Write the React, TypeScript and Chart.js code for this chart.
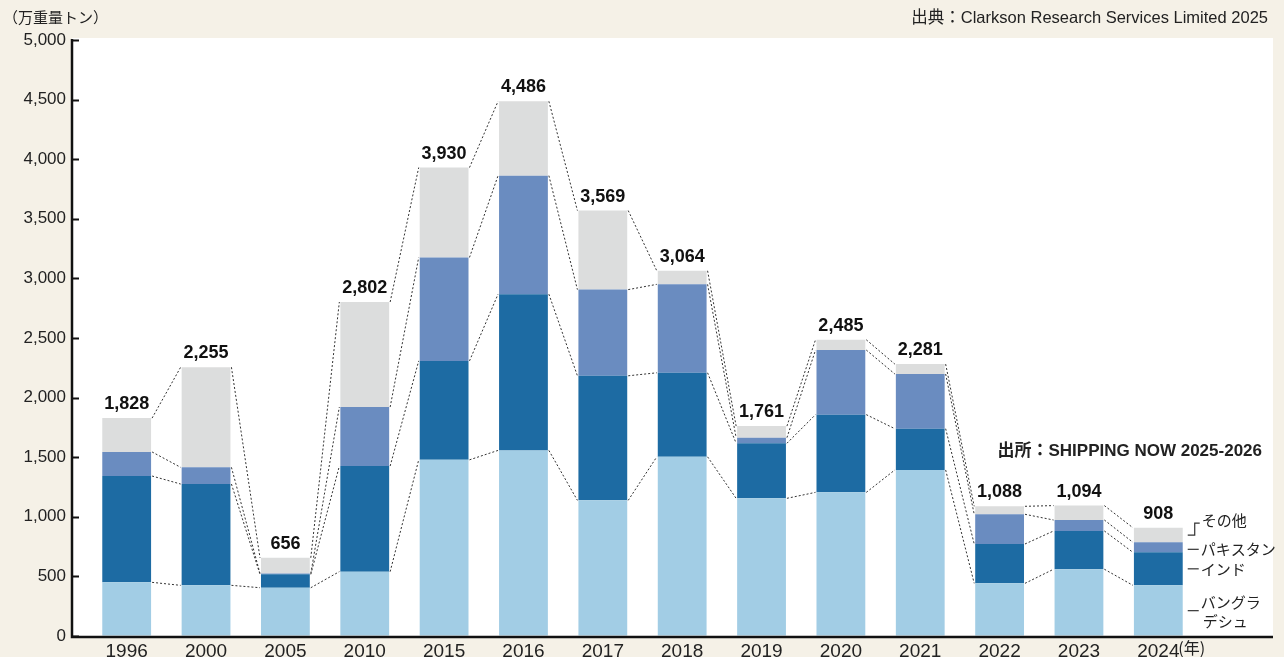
import React, { useEffect, useRef } from "react";
import { Chart, registerables } from "chart.js";

Chart.register(...registerables);

const years = ["1996", "2000", "2005", "2010", "2015", "2016", "2017", "2018", "2019", "2020", "2021", "2022", "2023", "2024"];
const bangladesh = [450, 425, 405, 540, 1478, 1557, 1138, 1503, 1155, 1205, 1393, 442, 560, 425];
const india = [892, 850, 112, 886, 830, 1311, 1045, 705, 462, 652, 346, 330, 321, 277];
const pakistan = [202, 140, 8, 495, 868, 994, 723, 742, 47, 542, 459, 249, 92, 84];
const others = [284, 840, 131, 881, 754, 624, 663, 114, 97, 86, 83, 67, 121, 122];
const totals = [1828, 2255, 656, 2802, 3930, 4486, 3569, 3064, 1761, 2485, 2281, 1088, 1094, 908];
const seriesNames = ["バングラデシュ", "インド", "パキスタン", "その他"];
const seriesColors = ["#a2cde5", "#1d6ba3", "#6a8cc0", "#dcdddd"];
const yMax = 5000;
const yStep = 500;
const unitLabel = "（万重量トン）";
const sourceTop = "出典：Clarkson Research Services Limited 2025";
const sourceNote = "出所：SHIPPING NOW 2025-2026";
const yearSuffix = "(年)";

const LATIN = '"Liberation Sans", Arial, Helvetica, sans-serif';
const JP = '"Noto Sans CJK JP", "Liberation Sans", sans-serif';
const MIX = '"Liberation Sans", "Noto Sans CJK JP", sans-serif';

const bgPlugin = {
  id: "bgPlugin",
  beforeDraw(chart: any) {
    const { ctx, width, height } = chart;
    const baseY = chart.scales.y.getPixelForValue(0);
    ctx.save();
    ctx.fillStyle = "#f5f1e7";
    ctx.fillRect(0, 0, width, height);
    ctx.fillStyle = "#ffffff";
    ctx.fillRect(72, 38, 1273 - 72, baseY - 38);
    ctx.restore();
  },
};

const overlayPlugin = {
  id: "overlayPlugin",
  afterDraw(chart: any) {
    const { ctx } = chart;
    const y = chart.scales.y;
    const metas = [0, 1, 2, 3].map((i) => chart.getDatasetMeta(i));
    const series = [bangladesh, india, pakistan, others];
    const cum = (i: number, k: number) => {
      let s = 0;
      for (let j = 0; j <= k; j++) s += series[j][i];
      return s;
    };
    const axisX = 72;
    const baseY = y.getPixelForValue(0);
    ctx.save();

    // connectors
    ctx.strokeStyle = "#333";
    ctx.lineWidth = 1;
    ctx.setLineDash([2, 2]);
    for (let i = 0; i < years.length - 1; i++) {
      const a = metas[0].data[i];
      const b = metas[0].data[i + 1];
      const x1 = a.x + a.width / 2 + 1;
      const x2 = b.x - b.width / 2 - 1;
      for (let k = 0; k < 4; k++) {
        const v1 = k === 3 ? totals[i] : cum(i, k);
        const v2 = k === 3 ? totals[i + 1] : cum(i + 1, k);
        ctx.beginPath();
        ctx.moveTo(x1, y.getPixelForValue(v1));
        ctx.lineTo(x2, y.getPixelForValue(v2));
        ctx.stroke();
      }
    }
    ctx.setLineDash([]);

    // axes
    ctx.strokeStyle = "#111";
    ctx.lineWidth = 2.5;
    ctx.beginPath();
    ctx.moveTo(axisX, y.getPixelForValue(yMax) - 1);
    ctx.lineTo(axisX, baseY + 1);
    ctx.lineTo(1273, baseY + 1);
    ctx.stroke();
    ctx.lineWidth = 2;
    for (let v = 0; v <= yMax; v += yStep) {
      const py = Math.round(y.getPixelForValue(v)) + 0.5;
      ctx.beginPath();
      ctx.moveTo(axisX, py);
      ctx.lineTo(axisX + 7, py);
      ctx.stroke();
    }

    // totals
    ctx.fillStyle = "#111";
    ctx.font = `bold 18px ${LATIN}`;
    ctx.textAlign = "center";
    ctx.textBaseline = "bottom";
    for (let i = 0; i < years.length; i++) {
      const bar = metas[0].data[i];
      ctx.fillText(totals[i].toLocaleString("en-US"), bar.x, y.getPixelForValue(totals[i]) - 5);
    }

    // legend next to last bar
    const li = years.length - 1;
    const lb = metas[0].data[li];
    const xr = lb.x + lb.width / 2;
    const mid = (k: number) => y.getPixelForValue(cum(li, k) - series[k][li] / 2);
    ctx.strokeStyle = "#333";
    ctx.lineWidth = 1.2;
    ctx.font = `15px ${JP}`;
    ctx.textAlign = "left";
    ctx.textBaseline = "middle";
    ctx.fillStyle = "#222";
    // others (bracket)
    const mo = mid(3);
    ctx.beginPath();
    ctx.moveTo(xr + 5, mo);
    ctx.lineTo(xr + 12, mo);
    ctx.lineTo(xr + 12, mo - 12);
    ctx.lineTo(xr + 17, mo - 12);
    ctx.stroke();
    ctx.fillText(seriesNames[3], xr + 19, mo - 15);
    // pakistan
    const mp = mid(2) + 2;
    ctx.beginPath();
    ctx.moveTo(xr + 5, mp);
    ctx.lineTo(xr + 16, mp);
    ctx.stroke();
    ctx.fillText(seriesNames[2], xr + 18, mp);
    // india
    const mi = mid(1);
    ctx.beginPath();
    ctx.moveTo(xr + 5, mi);
    ctx.lineTo(xr + 16, mi);
    ctx.stroke();
    ctx.fillText(seriesNames[1], xr + 18, mi);
    // bangladesh
    const mb = mid(0);
    ctx.beginPath();
    ctx.moveTo(xr + 5, mb);
    ctx.lineTo(xr + 16, mb);
    ctx.stroke();
    ctx.fillText(seriesNames[0].slice(0, 4), xr + 18, mb - 8);
    ctx.fillText(seriesNames[0].slice(4), xr + 20, mb + 11);

    // year suffix
    ctx.font = `16px ${JP}`;
    ctx.textBaseline = "middle";
    ctx.fillText(yearSuffix, lb.x + 20, baseY + 12);

    // header texts
    ctx.font = `15px ${JP}`;
    ctx.textAlign = "left";
    ctx.fillText(unitLabel, 3, 17);
    ctx.font = `16.5px ${MIX}`;
    ctx.textAlign = "right";
    ctx.fillText(sourceTop, 1268, 18);
    ctx.font = `bold 17px ${MIX}`;
    ctx.fillText(sourceNote, 1262, 451);

    ctx.restore();
  },
};

export default function App() {
  const ref = useRef<HTMLCanvasElement>(null);
  useEffect(() => {
    document.body.style.margin = "0";
    const canvas = ref.current!;
    const chart = new Chart(canvas, {
      type: "bar",
      data: {
        labels: years,
        datasets: [bangladesh, india, pakistan, others].map((d, k) => ({
          label: seriesNames[k],
          data: d,
          backgroundColor: seriesColors[k],
          borderWidth: 0,
          barPercentage: 0.615,
          categoryPercentage: 1,
        })),
      },
      options: {
        animation: false,
        responsive: false,
        maintainAspectRatio: false,
        layout: { padding: { top: 40, right: 86, bottom: 0, left: 0 } },
        plugins: { legend: { display: false }, tooltip: { enabled: false } },
        scales: {
          x: {
            stacked: true,
            grid: { display: false, drawTicks: false },
            border: { display: false },
            ticks: {
              padding: 4,
              color: "#222",
              font: { size: 19, family: LATIN },
              maxRotation: 0,
              autoSkip: false,
            },
            afterFit: (s: any) => {
              s.height = 21;
            },
          },
          y: {
            stacked: true,
            min: 0,
            max: yMax,
            grid: {
              display: true,
              drawOnChartArea: false,
              drawTicks: true,
              tickLength: 21,
              color: "rgba(0,0,0,0)",
            },
            border: { display: false },
            ticks: {
              stepSize: yStep,
              padding: 0,
              color: "#222",
              font: { size: 17, family: LATIN },
              callback: (v: any) => Number(v).toLocaleString("en-US"),
            },
            afterFit: (s: any) => {
              s.width = 87;
            },
          },
        },
      },
      plugins: [bgPlugin, overlayPlugin],
    } as any);
    return () => chart.destroy();
  }, []);
  return (
    <div style={{ position: "absolute", left: 0, top: 0, width: 1284, height: 657 }}>
      <canvas ref={ref} width={1284} height={657} style={{ display: "block" }} />
    </div>
  );
}
